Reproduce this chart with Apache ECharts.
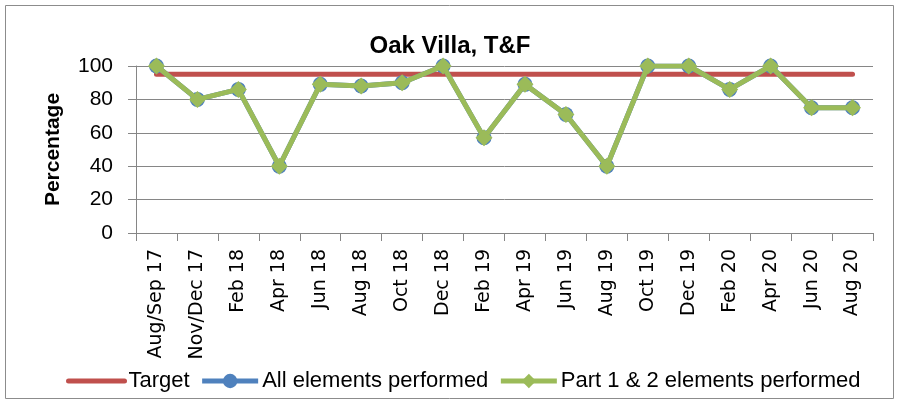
<!DOCTYPE html>
<html><head><meta charset="utf-8">
<script src="https://cdn.jsdelivr.net/npm/echarts@6/dist/echarts.min.js"></script>
<style>html,body{margin:0;padding:0;background:#fff}#c{width:900px;height:406px}</style>
</head><body><div id="c"></div>
<script>
var categories = ["Aug/Sep 17","Nov/Dec 17","Feb 18","Apr 18","Jun 18","Aug 18","Oct 18","Dec 18","Feb 19","Apr 19","Jun 19","Aug 19","Oct 19","Dec 19","Feb 20","Apr 20","Jun 20","Aug 20"];
var target = [95,95,95,95,95,95,95,95,95,95,95,95,95,95,95,95,95,95];
var allElements = [100,80,86,40,89,88,90,100,57,89,71,40,100,100,86,100,75,75];
var part12 = [100,80,86,40,89,88,90,100,57,89,71,40,100,100,86,100,75,75];
var yTicks = [0,20,40,60,80,100];

var chart = echarts.init(document.getElementById('c'), null, {renderer:'canvas'});
var sans = 'Liberation Sans, Arial, sans-serif';
chart.setOption({
  animation:false,
  backgroundColor:'#fff',
  graphic:[{type:'rect',shape:{x:5.5,y:5.5,width:888,height:393},style:{fill:'none',stroke:'#8c8c8c',lineWidth:1},z:-1}],
  title:{text:'Oak Villa, T&F',left:'center',top:29,textStyle:{fontFamily:sans,fontWeight:'bold',fontSize:24,color:'#000'}},
  grid:{left:136,right:27,top:66,bottom:173,containLabel:false},
  legend:{top:370,left:66,padding:0,itemWidth:56,itemHeight:18,itemGap:10,
    lineStyle:{width:5},
    textStyle:{fontFamily:sans,fontSize:22,color:'#000',padding:[0,0,0,-1]},
    data:[{name:'Target',itemStyle:{opacity:0,color:'rgba(0,0,0,0)',borderWidth:0}},{name:'All elements performed'},{name:'Part 1 & 2 elements performed'}]},
  xAxis:{type:'category',data:categories,boundaryGap:true,
    axisLine:{lineStyle:{color:'#868686',width:1}},
    axisTick:{show:true,length:8,alignWithLabel:false,lineStyle:{color:'#868686'}},
    axisLabel:{rotate:90,interval:0,margin:16,fontFamily:'DejaVu Sans, Verdana, sans-serif',fontSize:19,color:'#000'},
    splitLine:{show:false}},
  yAxis:{type:'value',min:0,max:100,interval:20,
    name:'Percentage',nameLocation:'middle',nameGap:72,
    nameTextStyle:{fontFamily:sans,fontWeight:'bold',fontSize:21,color:'#000'},
    axisLine:{show:true,lineStyle:{color:'#868686'}},
    axisTick:{show:true,length:8,lineStyle:{color:'#868686'}},
    axisLabel:{margin:23,fontFamily:sans,fontSize:21,color:'#000',
      formatter:function(v){return yTicks.indexOf(v)>=0?String(v):'';}},
    splitLine:{show:true,lineStyle:{color:'#868686',width:1}}},
  series:[
    {name:'Target',type:'line',data:target,symbol:'none',showSymbol:false,
      itemStyle:{color:'#C0504D'},lineStyle:{color:'#C0504D',width:5,cap:'round'},z:2},
    {name:'All elements performed',type:'line',data:allElements,symbol:'circle',symbolSize:15,
      itemStyle:{color:'#4F81BD'},lineStyle:{color:'#4F81BD',width:5},z:3},
    {name:'Part 1 & 2 elements performed',type:'line',data:part12,symbol:'diamond',symbolSize:17,
      itemStyle:{color:'#9BBB59'},lineStyle:{color:'#9BBB59',width:5},z:4}
  ]
});
</script></body></html>
